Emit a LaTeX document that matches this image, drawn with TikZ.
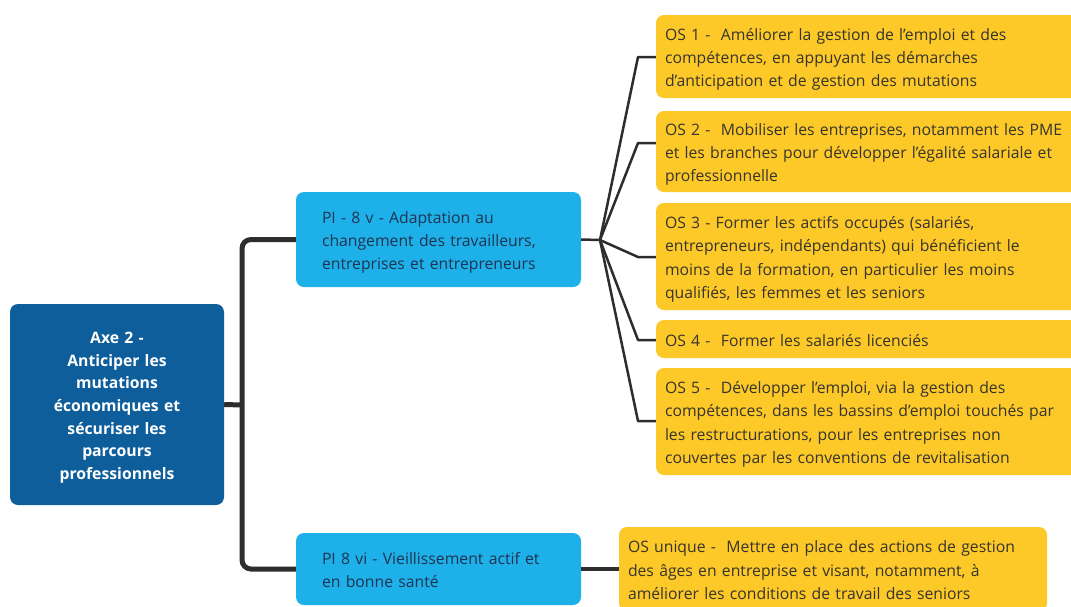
\documentclass[tikz,border=0pt]{standalone}
\usepackage{fontspec}
\setmainfont{Open Sans}
\definecolor{axeblue}{RGB}{14,94,156}
\definecolor{piblue}{RGB}{30,176,233}
\definecolor{osyellow}{RGB}{252,201,40}
\definecolor{ostext}{RGB}{55,52,45}
\definecolor{pitext}{RGB}{30,52,80}
\definecolor{linecol}{RGB}{45,45,45}
\begin{document}
\begin{tikzpicture}[x=1pt,y=-1pt,
  box/.style={rounded corners=8pt, inner ysep=2pt, anchor=center,
    execute at begin node={\rule{0pt}{20pt}},
    execute at end node={\rule[-6pt]{0pt}{6pt}}},
  axebox/.style={box, fill=axeblue, text=white, align=center, inner xsep=6pt,
    text width=202pt, font=\bfseries\fontsize{15.75}{22.7}\selectfont},
  pibox/.style={box, fill=piblue, text=pitext, align=left, inner xsep=26pt,
    text width=233pt, minimum width=285pt, font=\fontsize{15.75}{23.3}\selectfont},
  osbox/.style={box, fill=osyellow, text=ostext, align=left, inner xsep=9pt,
    text width=412pt, minimum width=430pt, font=\fontsize{15.75}{23.3}\selectfont},
  trunk/.style={draw=linecol, line width=5pt, rounded corners=9pt},
  fan/.style={draw=linecol, line width=2.5pt, line join=round}]
\clip (0,0) rectangle (1071,606);
\fill[white] (0,0) rectangle (1071,606);

\node[axebox, minimum width=214pt, minimum height=201pt] (axe) at (117,404.5)
  {Axe 2 -\\Anticiper les\\mutations\\économiques et\\sécuriser les\\parcours\\professionnels};

\node[pibox, minimum height=95pt] (pi1) at (438.5,239.5)
  {PI - 8 v - Adaptation au\\changement des travailleurs,\\entreprises et entrepreneurs};
\node[pibox, minimum height=72pt] (pi2) at (438.5,569)
  {PI 8 vi - Vieillissement actif et\\en bonne santé};

\node[osbox, minimum height=83pt] (os1) at (871,56.5)
  {OS 1 -\ \ Améliorer la gestion de l’emploi et des\\compétences, en appuyant les démarches\\d’anticipation et de gestion des mutations};
\node[osbox, minimum height=81pt] (os2) at (871,151.5)
  {OS 2 -\ \ Mobiliser les entreprises, notamment les PME\\et les branches pour développer l’égalité salariale et\\professionnelle};
\node[osbox, minimum height=107pt] (os3) at (871,256.5)
  {OS 3 - Former les actifs occupés (salariés,\\entrepreneurs, indépendants) qui bénéficient le\\moins de la formation, en particulier les moins\\qualifiés, les femmes et les seniors};
\node[osbox, minimum height=38pt] (os4) at (871,339)
  {OS 4 -\ \ Former les salariés licenciés};
\node[osbox, minimum height=107pt] (os5) at (871,421.5)
  {OS 5 -\ \ Développer l'emploi, via la gestion des\\compétences, dans les bassins d’emploi touchés par\\les restructurations, pour les entreprises non\\couvertes par les conventions de revitalisation};
\node[osbox, text width=410pt, minimum width=428pt, minimum height=84pt] (osu) at (833,569)
  {OS unique -\ \ Mettre en place des actions de gestion\\des âges en entreprise et visant, notamment, à\\améliorer les conditions de travail des seniors};

% trunk
\coordinate (tr) at (242,405);
\draw[trunk] (axe.east) -- (tr);
\draw[trunk] (pi1.west) -| (tr) |- (pi2.west);

% fan
\coordinate (hub) at (600,240);
\draw[fan] (pi1.east) -- (hub);
\foreach \o/\yy in {os1/57, os2/143, os3/257, os4/340, os5/421}{
  \draw[fan] (hub) -- (638,\yy) -- (\o.west |- 0,\yy);
}
\draw[draw=linecol, line width=4pt] (pi2.east) -- (osu.west);
\end{tikzpicture}
\end{document}
